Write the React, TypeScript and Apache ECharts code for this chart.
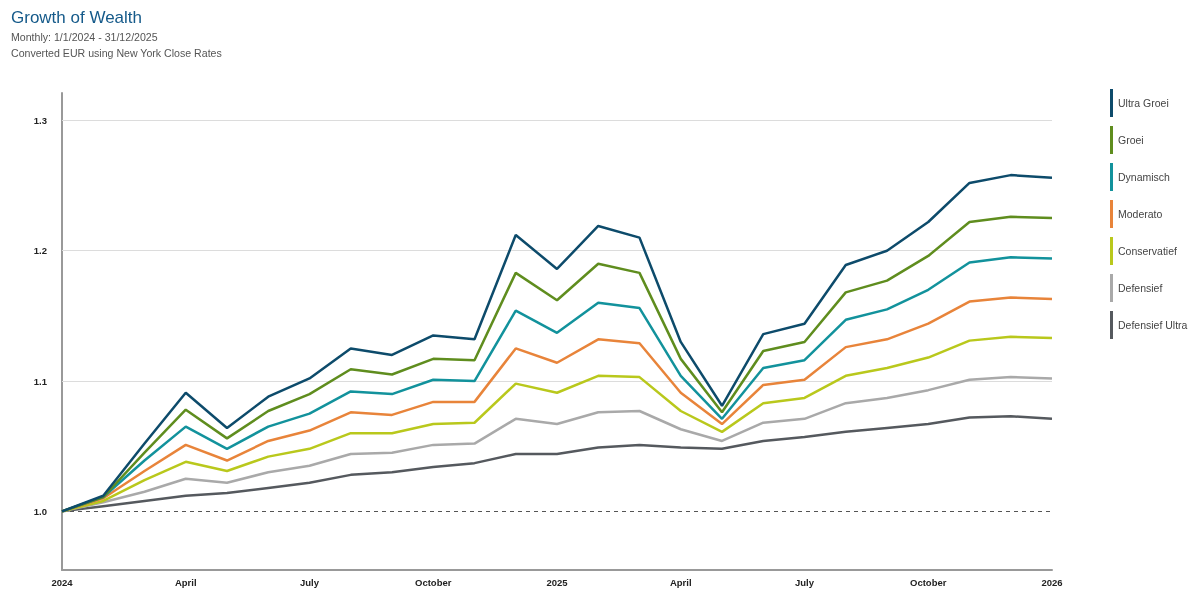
import React, { useEffect, useRef } from "react";
import * as echarts from "echarts";

const months = [
  "2024-01", "2024-02", "2024-03", "2024-04", "2024-05", "2024-06", "2024-07", "2024-08", "2024-09",
  "2024-10", "2024-11", "2024-12", "2025-01", "2025-02", "2025-03", "2025-04", "2025-05", "2025-06",
  "2025-07", "2025-08", "2025-09", "2025-10", "2025-11", "2025-12", "2026-01",
];
const tickLabels = ["2024", "April", "July", "October", "2025", "April", "July", "October", "2026"];
const yTicks = [1.0, 1.1, 1.2, 1.3];

const ultraGroei = [1.0, 1.012, 1.052, 1.091, 1.064, 1.088, 1.102, 1.125, 1.12, 1.135, 1.132, 1.212, 1.186, 1.219, 1.21, 1.13, 1.081, 1.136, 1.144, 1.189, 1.2, 1.222, 1.252, 1.258, 1.256];
const groei = [1.0, 1.011, 1.045, 1.078, 1.056, 1.077, 1.09, 1.109, 1.105, 1.117, 1.116, 1.183, 1.162, 1.19, 1.183, 1.117, 1.076, 1.123, 1.13, 1.168, 1.177, 1.196, 1.222, 1.226, 1.225];
const dynamisch = [1.0, 1.011, 1.039, 1.065, 1.048, 1.065, 1.075, 1.092, 1.09, 1.101, 1.1, 1.154, 1.137, 1.16, 1.156, 1.104, 1.071, 1.11, 1.116, 1.147, 1.155, 1.17, 1.191, 1.195, 1.194];
const moderato = [1.0, 1.01, 1.031, 1.051, 1.039, 1.054, 1.062, 1.076, 1.074, 1.084, 1.084, 1.125, 1.114, 1.132, 1.129, 1.091, 1.067, 1.097, 1.101, 1.126, 1.132, 1.144, 1.161, 1.164, 1.163];
const conservatief = [1.0, 1.008, 1.024, 1.038, 1.031, 1.042, 1.048, 1.06, 1.06, 1.067, 1.068, 1.098, 1.091, 1.104, 1.103, 1.077, 1.061, 1.083, 1.087, 1.104, 1.11, 1.118, 1.131, 1.134, 1.133];
const defensief = [1.0, 1.007, 1.015, 1.025, 1.022, 1.03, 1.035, 1.044, 1.045, 1.051, 1.052, 1.071, 1.067, 1.076, 1.077, 1.063, 1.054, 1.068, 1.071, 1.083, 1.087, 1.093, 1.101, 1.103, 1.102];
const defensiefUltra = [1.0, 1.004, 1.008, 1.012, 1.014, 1.018, 1.022, 1.028, 1.03, 1.034, 1.037, 1.044, 1.044, 1.049, 1.051, 1.049, 1.048, 1.054, 1.057, 1.061, 1.064, 1.067, 1.072, 1.073, 1.071];

const seriesNames = ["Ultra Groei", "Groei", "Dynamisch", "Moderato", "Conservatief", "Defensief", "Defensief Ultra"];
const seriesData = [ultraGroei, groei, dynamisch, moderato, conservatief, defensief, defensiefUltra];
const colors = ["#0d4b6b", "#5f8d1e", "#12929c", "#e8843a", "#b9c81c", "#a9a9a9", "#55595e"];

export default function App() {
  const ref = useRef<HTMLDivElement>(null);
  useEffect(() => {
    if (!ref.current) return;
    const chart = echarts.init(ref.current, undefined, { renderer: "svg" });
    const font = "'Liberation Sans', Arial, sans-serif";
    const series: any[] = seriesNames.map((name, i) => ({
      name,
      type: "line",
      data: seriesData[i],
      symbol: "none",
      lineStyle: { width: 2.5, color: colors[i] },
      itemStyle: { color: colors[i] },
      z: 10 - i,
    }));
    series.push({
      name: "__grid",
      type: "line",
      data: [],
      silent: true,
      markLine: {
        silent: true,
        symbol: "none",
        label: { show: false },
        data: yTicks.map((v) => ({
          yAxis: v,
          lineStyle: v === 1.0
            ? { color: "#555", type: [4, 4], width: 1.2 }
            : { color: "#dcdcdc", type: "solid", width: 1 },
        })),
      },
      z: 1,
    });
    chart.setOption({
      animation: false,
      color: colors,
      textStyle: { fontFamily: font },
      grid: { left: 62, right: 148, top: 93, bottom: 31, containLabel: false },
      legend: {
        data: seriesNames,
        orient: "vertical",
        left: 1110,
        top: 89,
        padding: 0,
        icon: "rect",
        itemWidth: 3,
        itemHeight: 28,
        itemGap: 9,
        textStyle: { fontSize: 10.5, color: "#444", fontFamily: font },
      },
      xAxis: {
        type: "category",
        data: months,
        boundaryGap: false,
        axisLine: { lineStyle: { color: "#999", width: 2 } },
        axisTick: { show: false },
        axisLabel: {
          interval: 2,
          margin: 7,
          fontSize: 9.5,
          fontWeight: "bold",
          color: "#222",
          fontFamily: font,
          formatter: (_v: string, idx: number) => tickLabels[Math.round(idx / 3)] ?? "",
        },
        splitLine: { show: false },
      },
      yAxis: {
        type: "value",
        min: 0.955,
        max: 1.321,
        axisLine: { show: true, lineStyle: { color: "#999", width: 2 } },
        axisTick: { show: false },
        splitLine: { show: false },
        axisLabel: {
          customValues: yTicks,
          margin: 15,
          fontSize: 9.5,
          fontWeight: "bold",
          color: "#222",
          fontFamily: font,
          formatter: (v: number) => v.toFixed(1),
        },
      },
      graphic: [
        { type: "text", left: 11, top: 9, style: { text: "Growth of Wealth", fontSize: 17, fill: "#155a8a", fontFamily: font } },
        { type: "text", left: 11, top: 31, style: { text: "Monthly: 1/1/2024 - 31/12/2025", fontSize: 10.6, fill: "#555", fontFamily: font } },
        { type: "text", left: 11, top: 47, style: { text: "Converted EUR using New York Close Rates", fontSize: 10.6, fill: "#555", fontFamily: font } },
      ],
      series,
    });
    return () => chart.dispose();
  }, []);
  return <div ref={ref} style={{ position: "fixed", left: 0, top: 0, width: 1200, height: 601 }} />;
}
